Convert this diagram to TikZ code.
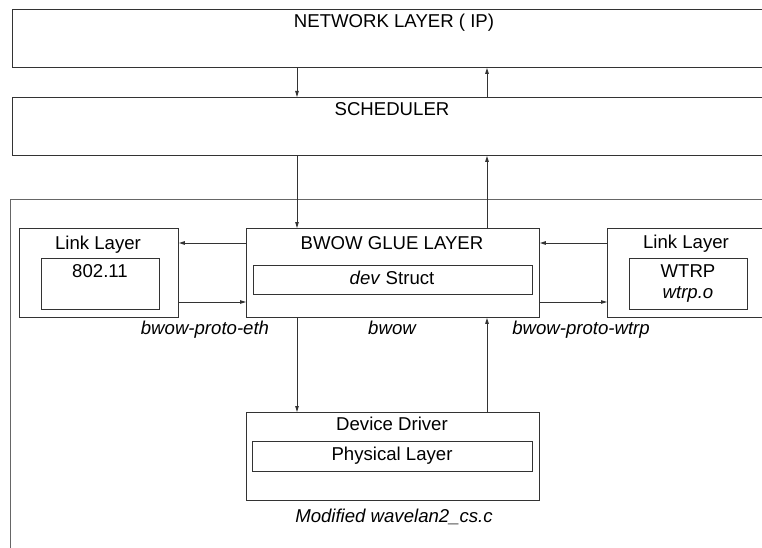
\documentclass[tikz,border=0pt]{standalone}
\usepackage{fontspec}
\setmainfont{Liberation Sans}
\usetikzlibrary{arrows.meta}
\begin{document}
\begin{tikzpicture}[x=1pt,y=-1pt,
  box/.style={draw=black!80, line width=0.9pt, inner sep=0pt, anchor=north west},
  frame/.style={draw=black!60, line width=1.3pt, inner sep=0pt, anchor=north west},
  lbl/.style={anchor=base, inner sep=0pt, font=\fontsize{18.6}{22}\selectfont},
  ital/.style={anchor=base, inner sep=0pt, font=\fontsize{18.6}{22}\selectfont\itshape},
  arr/.style={draw=black!80, line width=0.9pt, -{Triangle[length=6pt,width=3.5pt]}},
]
\useasboundingbox (0,0) rectangle (762,548);
\clip (0,0) rectangle (762,548);

% layer boxes
\node[box, minimum width=770pt, minimum height=58pt] (net) at (12,9) {};
\node[box, minimum width=770pt, minimum height=58pt] (sched) at (12,97) {};
\node[frame, minimum width=780pt, minimum height=400pt] (kernel) at (10,199) {};
\node[box, minimum width=159pt, minimum height=89pt] (linkL) at (19,228) {};
\node[box, minimum width=118pt, minimum height=51pt] (ieee) at (41,258) {};
\node[box, minimum width=293pt, minimum height=89pt] (glue) at (246,228) {};
\node[box, minimum width=279pt, minimum height=29pt] (dev) at (253,265) {};
\node[box, minimum width=160pt, minimum height=89pt] (linkR) at (607,228) {};
\node[box, minimum width=118pt, minimum height=51pt] (wtrp) at (629,258) {};
\node[box, minimum width=293pt, minimum height=88pt] (drv) at (246,412) {};
\node[box, minimum width=280pt, minimum height=30pt] (phy) at (252,441) {};

% texts
\node[lbl] (tnet) at (394,28) {NETWORK LAYER ( IP)};
\node[lbl] (tsched) at (392,116) {SCHEDULER};
\node[lbl] (tlinkL) at (98,249) {Link Layer};
\node[lbl] (tieee) at (100,277) {802.11};
\node[lbl] (tglue) at (392,249) {BWOW GLUE LAYER};
\node[lbl] (tdev) at (392,284) {\textit{dev} Struct};
\node[lbl] (tlinkR) at (686,248) {Link Layer};
\node[lbl] (twtrp) at (688,277) {WTRP};
\node[ital] (twtrpo) at (688,298) {wtrp.o};
\node[lbl] (tdrv) at (392,430) {Device Driver};
\node[lbl] (tphy) at (392,460) {Physical Layer};
\node[ital] (leth) at (205,334) {bwow-proto-eth};
\node[ital] (lbwow) at (392,334) {bwow};
\node[ital] (lwtrp) at (581,334) {bwow-proto-wtrp};
\node[ital] (lmod) at (394,522) {Modified wavelan2\_cs.c};

% connectors
\coordinate (xa) at (297,0);
\coordinate (xb) at (487,0);
\coordinate (ya) at (0,243);
\coordinate (yb) at (0,302);
\draw[arr] (net.south -| xa) -- (sched.north -| xa);
\draw[arr] (sched.north -| xb) -- (net.south -| xb);
\draw[arr] (sched.south -| xa) -- (glue.north -| xa);
\draw[arr] (glue.north -| xb) -- (sched.south -| xb);
\draw[arr] (glue.south -| xa) -- (drv.north -| xa);
\draw[arr] (drv.north -| xb) -- (glue.south -| xb);
\draw[arr] (glue.west |- ya) -- (linkL.east |- ya);
\draw[arr] (linkL.east |- yb) -- (glue.west |- yb);
\draw[arr] (linkR.west |- ya) -- (glue.east |- ya);
\draw[arr] (glue.east |- yb) -- (linkR.west |- yb);
\end{tikzpicture}
\end{document}
